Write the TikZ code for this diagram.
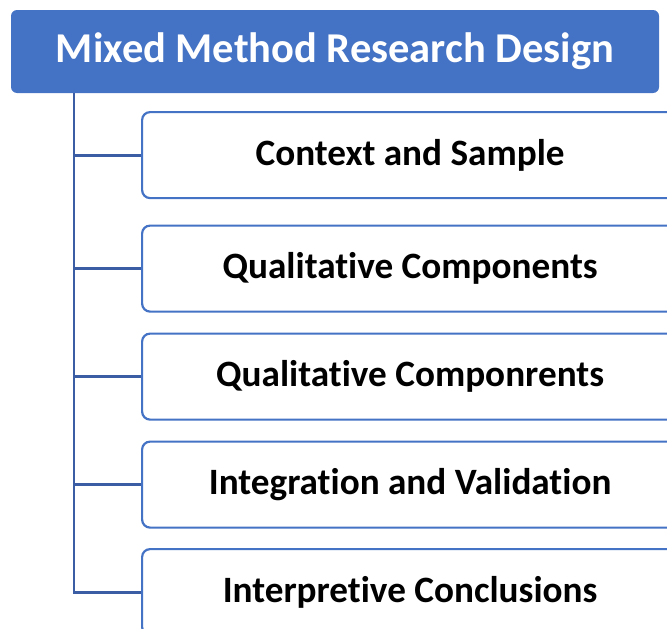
\documentclass[tikz,border=0pt]{standalone}
\usepackage{fontspec}
\setmainfont{Carlito}[Ligatures={NoCommon}]
\definecolor{mblue}{HTML}{4472C4}
\definecolor{dblue}{HTML}{3A5DA3}
\begin{document}
\begin{tikzpicture}[x=1pt,y=1pt,
  rootbox/.style={draw=none, fill=mblue, rounded corners=6pt, minimum width=648pt, minimum height=83pt, inner sep=0pt,
    text=white, font=\fontsize{42.5}{50}\selectfont\bfseries},
  childbox/.style={draw=mblue, line width=2.2pt, fill=white, rounded corners=8pt, minimum width=536pt, minimum height=86pt,
    inner sep=0pt, anchor=north west, font=\fontsize{37.2}{44}\selectfont\bfseries},
  tree/.style={draw=dblue, line width=2.8pt}]
\useasboundingbox (0,0) rectangle (667,-629);
\clip (0,0) rectangle (667,-629);
\node[rootbox] (root) at (335,-51.5) {Mixed Method Research Design};
\node[childbox] (c1) at (141,-111) {Context and Sample};
\node[childbox] (c2) at (141,-224.5) {Qualitative Components};
\node[childbox] (c3) at (141,-332.5) {Qualitative Componrents};
\node[childbox] (c4) at (141,-440.5) {Integration and Validation};
\node[childbox] (c5) at (141,-548) {Interpretive Conclusions};
\coordinate (trunk) at (74,-93);
\draw[tree] (trunk) |- (c5.west);
\foreach \c in {c1,c2,c3,c4}{
  \draw[tree] (trunk |- \c.west) -- (\c.west);
}
\end{tikzpicture}
\end{document}
